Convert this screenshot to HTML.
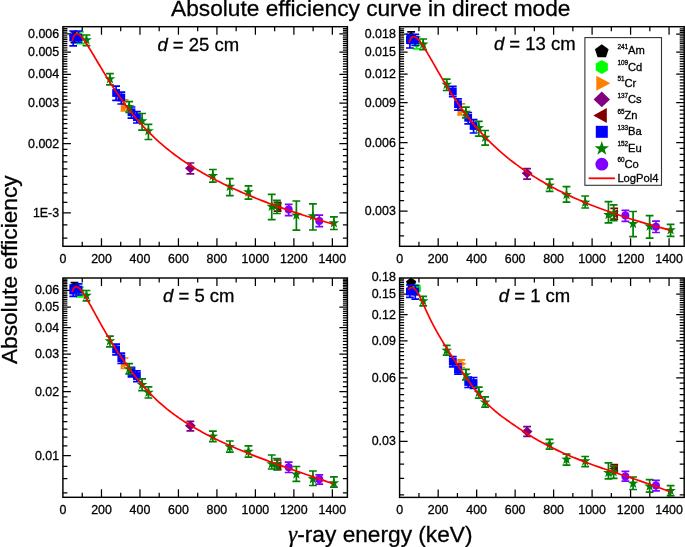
<!DOCTYPE html><html><head><meta charset="utf-8"><style>html,body{margin:0;padding:0;background:#fff;overflow:hidden}svg{display:block;will-change:transform} text{font-family:"Liberation Sans", sans-serif;fill:#000;stroke:#000;stroke-width:0.3px}.tl{font-size:12.4px}.dl{font-size:18.5px}.lg{font-size:11.2px}.sup{font-size:6.4px}.big{font-size:22.7px}</style></head><body>
<svg width="685" height="547" viewBox="0 0 685 547">
<rect width="685" height="547" fill="#fff"/>
<text x="171.1" y="16.3" class="big" style="font-size:22.7px">Absolute efficiency curve in direct mode</text>
<text transform="translate(16.8 364.1) rotate(-90)" class="big">Absolute efficiency</text>
<text x="288.3" y="541.6" class="big"><tspan style="font-family:'Liberation Serif',serif;font-style:italic">&#947;</tspan>-ray energy (keV)</text>
<clipPath id="cTL"><rect x="62.9" y="26.7" width="284.5" height="219.60000000000002"/></clipPath>
<path d="M82.24 246.30v-4.5M82.24 26.70v4.5M101.48 246.30v-8M101.48 26.70v8M120.72 246.30v-4.5M120.72 26.70v4.5M139.96 246.30v-8M139.96 26.70v8M159.20 246.30v-4.5M159.20 26.70v4.5M178.44 246.30v-8M178.44 26.70v8M197.68 246.30v-4.5M197.68 26.70v4.5M216.92 246.30v-8M216.92 26.70v8M236.16 246.30v-4.5M236.16 26.70v4.5M255.40 246.30v-8M255.40 26.70v8M274.64 246.30v-4.5M274.64 26.70v4.5M293.88 246.30v-8M293.88 26.70v8M313.12 246.30v-4.5M313.12 26.70v4.5M332.36 246.30v-8M332.36 26.70v8M62.90 238.10h4.5M347.40 238.10h-4.5M62.90 224.76h4.5M347.40 224.76h-4.5M62.90 212.99h8M347.40 212.99h-8M62.90 202.46h4.5M347.40 202.46h-4.5M62.90 192.94h4.5M347.40 192.94h-4.5M62.90 184.25h4.5M347.40 184.25h-4.5M62.90 176.25h4.5M347.40 176.25h-4.5M62.90 168.85h4.5M347.40 168.85h-4.5M62.90 161.95h4.5M347.40 161.95h-4.5M62.90 155.51h4.5M347.40 155.51h-4.5M62.90 149.45h4.5M347.40 149.45h-4.5M62.90 143.74h8M347.40 143.74h-8M62.90 138.34h4.5M347.40 138.34h-4.5M62.90 133.21h4.5M347.40 133.21h-4.5M62.90 128.34h4.5M347.40 128.34h-4.5M62.90 123.69h4.5M347.40 123.69h-4.5M62.90 119.25h4.5M347.40 119.25h-4.5M62.90 115.00h4.5M347.40 115.00h-4.5M62.90 110.92h4.5M347.40 110.92h-4.5M62.90 107.00h4.5M347.40 107.00h-4.5M62.90 103.23h8M347.40 103.23h-8M62.90 99.59h4.5M347.40 99.59h-4.5M62.90 96.09h4.5M347.40 96.09h-4.5M62.90 92.70h4.5M347.40 92.70h-4.5M62.90 89.43h4.5M347.40 89.43h-4.5M62.90 86.25h4.5M347.40 86.25h-4.5M62.90 83.18h4.5M347.40 83.18h-4.5M62.90 80.20h4.5M347.40 80.20h-4.5M62.90 77.30h4.5M347.40 77.30h-4.5M62.90 74.49h8M347.40 74.49h-8M62.90 71.75h4.5M347.40 71.75h-4.5M62.90 69.08h4.5M347.40 69.08h-4.5M62.90 66.49h4.5M347.40 66.49h-4.5M62.90 63.96h4.5M347.40 63.96h-4.5M62.90 61.49h4.5M347.40 61.49h-4.5M62.90 59.08h4.5M347.40 59.08h-4.5M62.90 56.73h4.5M347.40 56.73h-4.5M62.90 54.44h4.5M347.40 54.44h-4.5M62.90 52.19h8M347.40 52.19h-8M62.90 50.00h4.5M347.40 50.00h-4.5M62.90 47.85h4.5M347.40 47.85h-4.5M62.90 45.74h4.5M347.40 45.74h-4.5M62.90 43.68h4.5M347.40 43.68h-4.5M62.90 41.67h4.5M347.40 41.67h-4.5M62.90 39.69h4.5M347.40 39.69h-4.5M62.90 37.75h4.5M347.40 37.75h-4.5M62.90 35.84h4.5M347.40 35.84h-4.5M62.90 33.98h8M347.40 33.98h-8M62.90 32.14h4.5M347.40 32.14h-4.5M62.90 30.34h4.5M347.40 30.34h-4.5M62.90 28.57h4.5M347.40 28.57h-4.5" stroke="#000" stroke-width="1.25" fill="none"/>
<rect x="62.9" y="26.7" width="284.50" height="219.60" stroke="#000" stroke-width="1.45" fill="none"/>
<text x="63.00" y="263.10" text-anchor="middle" class="tl">0</text>
<text x="101.48" y="263.10" text-anchor="middle" class="tl">200</text>
<text x="139.96" y="263.10" text-anchor="middle" class="tl">400</text>
<text x="178.44" y="263.10" text-anchor="middle" class="tl">600</text>
<text x="216.92" y="263.10" text-anchor="middle" class="tl">800</text>
<text x="255.40" y="263.10" text-anchor="middle" class="tl">1000</text>
<text x="293.88" y="263.10" text-anchor="middle" class="tl">1200</text>
<text x="332.36" y="263.10" text-anchor="middle" class="tl">1400</text>
<text x="59.10" y="216.99" text-anchor="end" class="tl">1E-3</text>
<text x="59.10" y="147.74" text-anchor="end" class="tl">0.002</text>
<text x="59.10" y="107.23" text-anchor="end" class="tl">0.003</text>
<text x="59.10" y="78.49" text-anchor="end" class="tl">0.004</text>
<text x="59.10" y="56.19" text-anchor="end" class="tl">0.005</text>
<text x="59.10" y="37.98" text-anchor="end" class="tl">0.006</text>
<text x="198.30" y="50.90" text-anchor="middle" class="dl"><tspan font-style="italic">d</tspan> = 25 cm</text>
<g clip-path="url(#cTL)">
<path d="M74.45 31.80V42.60M70.55 31.80H78.35M70.55 42.60H78.35" stroke="#000000" stroke-width="1.7" fill="none"/>
<polygon points="74.45,31.60 79.58,35.33 77.62,41.37 71.27,41.37 69.31,35.33" fill="#000000"/>
<path d="M79.93 31.80V43.70M76.03 31.80H83.83M76.03 43.70H83.83" stroke="#00ff00" stroke-width="1.7" fill="none"/>
<polygon points="79.93,33.00 84.26,35.50 84.26,40.50 79.93,43.00 75.60,40.50 75.60,35.50" fill="#00ff00"/>
<path d="M124.57 99.80V111.00M120.67 99.80H128.47M120.67 111.00H128.47" stroke="#ff8000" stroke-width="1.7" fill="none"/>
<polygon points="120.77,102.40 129.97,107.00 120.77,111.60" fill="#ff8000"/>
<path d="M190.37 163.00V173.90M186.47 163.00H194.27M186.47 173.90H194.27" stroke="#800080" stroke-width="1.7" fill="none"/>
<polygon points="184.97,168.30 190.37,163.30 195.77,168.30 190.37,173.30" fill="#800080"/>
<path d="M277.53 202.40V211.20M273.63 202.40H281.43M273.63 211.20H281.43" stroke="#800000" stroke-width="1.7" fill="none"/>
<polygon points="281.33,202.30 272.13,206.90 281.33,211.50" fill="#800000"/>
<path d="M73.20 31.00V45.90M69.30 31.00H77.10M69.30 45.90H77.10" stroke="#0000ff" stroke-width="1.7" fill="none"/>
<rect x="69.30" y="33.60" width="7.80" height="7.80" fill="#0000ff"/>
<path d="M78.58 31.00V42.50M74.68 31.00H82.48M74.68 42.50H82.48" stroke="#0000ff" stroke-width="1.7" fill="none"/>
<rect x="74.68" y="33.60" width="7.80" height="7.80" fill="#0000ff"/>
<path d="M116.10 86.10V100.40M112.20 86.10H120.00M112.20 100.40H120.00" stroke="#0000ff" stroke-width="1.7" fill="none"/>
<rect x="112.20" y="89.10" width="7.80" height="7.80" fill="#0000ff"/>
<path d="M121.30 92.10V104.00M117.40 92.10H125.20M117.40 104.00H125.20" stroke="#0000ff" stroke-width="1.7" fill="none"/>
<rect x="117.40" y="93.60" width="7.80" height="7.80" fill="#0000ff"/>
<path d="M131.49 107.00V118.20M127.59 107.00H135.39M127.59 118.20H135.39" stroke="#0000ff" stroke-width="1.7" fill="none"/>
<rect x="127.59" y="108.40" width="7.80" height="7.80" fill="#0000ff"/>
<path d="M136.88 111.70V123.00M132.98 111.70H140.78M132.98 123.00H140.78" stroke="#0000ff" stroke-width="1.7" fill="none"/>
<rect x="132.98" y="113.30" width="7.80" height="7.80" fill="#0000ff"/>
<path d="M86.47 35.00V45.70M82.57 35.00H90.37M82.57 45.70H90.37" stroke="#008000" stroke-width="1.7" fill="none"/>
<polygon points="86.47,34.40 87.80,38.18 91.80,38.27 88.61,40.70 89.76,44.53 86.47,42.25 83.18,44.53 84.33,40.70 81.15,38.27 85.15,38.18" fill="#008000"/>
<path d="M109.95 73.70V84.90M106.05 73.70H113.85M106.05 84.90H113.85" stroke="#008000" stroke-width="1.7" fill="none"/>
<polygon points="109.95,73.40 111.27,77.18 115.27,77.27 112.09,79.70 113.24,83.53 109.95,81.25 106.65,83.53 107.81,79.70 104.62,77.27 108.62,77.18" fill="#008000"/>
<path d="M129.19 101.60V112.30M125.29 101.60H133.09M125.29 112.30H133.09" stroke="#008000" stroke-width="1.7" fill="none"/>
<polygon points="129.19,101.30 130.51,105.08 134.51,105.17 131.33,107.60 132.48,111.43 129.19,109.15 125.89,111.43 127.05,107.60 123.86,105.17 127.86,105.08" fill="#008000"/>
<path d="M142.08 113.50V130.20M138.18 113.50H145.98M138.18 130.20H145.98" stroke="#008000" stroke-width="1.7" fill="none"/>
<polygon points="142.08,115.40 143.40,119.18 147.40,119.27 144.22,121.70 145.37,125.53 142.08,123.25 138.78,125.53 139.94,121.70 136.75,119.27 140.75,119.18" fill="#008000"/>
<path d="M148.43 124.40V139.50M144.53 124.40H152.33M144.53 139.50H152.33" stroke="#008000" stroke-width="1.7" fill="none"/>
<polygon points="148.43,125.40 149.75,129.18 153.75,129.27 150.57,131.70 151.72,135.53 148.43,133.25 145.13,135.53 146.29,131.70 143.10,129.27 147.10,129.18" fill="#008000"/>
<path d="M212.88 169.50V182.20M208.98 169.50H216.78M208.98 182.20H216.78" stroke="#008000" stroke-width="1.7" fill="none"/>
<polygon points="212.88,170.20 214.20,173.98 218.21,174.07 215.02,176.50 216.17,180.33 212.88,178.05 209.59,180.33 210.74,176.50 207.55,174.07 211.56,173.98" fill="#008000"/>
<path d="M229.81 178.70V195.60M225.91 178.70H233.71M225.91 195.60H233.71" stroke="#008000" stroke-width="1.7" fill="none"/>
<polygon points="229.81,181.00 231.13,184.78 235.14,184.87 231.95,187.30 233.10,191.13 229.81,188.85 226.52,191.13 227.67,187.30 224.48,184.87 228.49,184.78" fill="#008000"/>
<path d="M248.47 185.90V199.10M244.57 185.90H252.37M244.57 199.10H252.37" stroke="#008000" stroke-width="1.7" fill="none"/>
<polygon points="248.47,186.50 249.80,190.28 253.80,190.37 250.61,192.80 251.77,196.63 248.47,194.35 245.18,196.63 246.33,192.80 243.15,190.37 247.15,190.28" fill="#008000"/>
<path d="M271.75 194.40V219.70M267.85 194.40H275.65M267.85 219.70H275.65" stroke="#008000" stroke-width="1.7" fill="none"/>
<polygon points="271.75,200.90 273.08,204.68 277.08,204.77 273.89,207.20 275.05,211.03 271.75,208.75 268.46,211.03 269.61,207.20 266.43,204.77 270.43,204.68" fill="#008000"/>
<path d="M276.95 200.30V213.50M273.05 200.30H280.85M273.05 213.50H280.85" stroke="#008000" stroke-width="1.7" fill="none"/>
<polygon points="276.95,199.70 278.27,203.48 282.27,203.57 279.09,206.00 280.24,209.83 276.95,207.55 273.66,209.83 274.81,206.00 271.62,203.57 275.63,203.48" fill="#008000"/>
<path d="M296.38 201.00V230.10M292.48 201.00H300.28M292.48 230.10H300.28" stroke="#008000" stroke-width="1.7" fill="none"/>
<polygon points="296.38,209.60 297.70,213.38 301.71,213.47 298.52,215.90 299.67,219.73 296.38,217.45 293.09,219.73 294.24,215.90 291.06,213.47 295.06,213.38" fill="#008000"/>
<path d="M312.93 203.90V230.00M309.03 203.90H316.83M309.03 230.00H316.83" stroke="#008000" stroke-width="1.7" fill="none"/>
<polygon points="312.93,210.40 314.25,214.18 318.25,214.27 315.07,216.70 316.22,220.53 312.93,218.25 309.64,220.53 310.79,216.70 307.60,214.27 311.61,214.18" fill="#008000"/>
<path d="M333.90 216.80V229.50M330.00 216.80H337.80M330.00 229.50H337.80" stroke="#008000" stroke-width="1.7" fill="none"/>
<polygon points="333.90,217.40 335.22,221.18 339.23,221.27 336.04,223.70 337.19,227.53 333.90,225.25 330.61,227.53 331.76,223.70 328.57,221.27 332.58,221.18" fill="#008000"/>
<path d="M288.69 204.30V215.60M284.79 204.30H292.59M284.79 215.60H292.59" stroke="#8000ff" stroke-width="1.7" fill="none"/>
<circle cx="288.69" cy="209.60" r="4.0" fill="#8000ff"/>
<path d="M319.28 215.10V226.70M315.38 215.10H323.18M315.38 226.70H323.18" stroke="#8000ff" stroke-width="1.7" fill="none"/>
<circle cx="319.28" cy="220.90" r="4.0" fill="#8000ff"/>
<path d="M72.24 40.88 L72.39 40.29 L72.55 39.73 L72.72 39.20 L72.88 38.69 L73.05 38.20 L73.23 37.75 L73.40 37.31 L73.58 36.90 L73.76 36.52 L73.94 36.16 L74.13 35.82 L74.32 35.51 L74.52 35.23 L74.71 34.96 L74.91 34.73 L75.12 34.52 L75.33 34.33 L75.54 34.16 L75.75 34.02 L75.97 33.91 L76.19 33.82 L76.42 33.75 L76.65 33.71 L76.88 33.69 L77.12 33.69 L77.36 33.72 L77.61 33.77 L77.86 33.85 L78.11 33.95 L78.37 34.07 L78.63 34.22 L78.90 34.38 L79.17 34.57 L79.45 34.78 L79.73 35.01 L80.02 35.27 L80.31 35.54 L80.61 35.83 L80.91 36.15 L81.21 36.49 L81.53 36.84 L81.84 37.22 L82.17 37.61 L82.49 38.02 L82.83 38.45 L83.17 38.90 L83.51 39.37 L83.86 39.86 L84.22 40.36 L84.58 40.89 L84.95 41.42 L85.33 41.98 L85.71 42.55 L86.10 43.14 L86.50 43.75 L86.90 44.37 L87.31 45.01 L87.72 45.66 L88.15 46.33 L88.58 47.02 L89.02 47.72 L89.46 48.44 L89.91 49.18 L90.38 49.93 L90.84 50.70 L91.32 51.49 L91.81 52.29 L92.30 53.11 L92.80 53.95 L93.31 54.80 L93.83 55.67 L94.36 56.55 L94.90 57.45 L95.44 58.37 L96.00 59.30 L96.56 60.25 L97.14 61.22 L97.72 62.20 L98.32 63.20 L98.92 64.21 L99.54 65.24 L100.16 66.29 L100.80 67.35 L101.44 68.43 L102.10 69.53 L102.77 70.64 L103.45 71.77 L104.15 72.91 L104.85 74.07 L105.57 75.24 L106.30 76.43 L107.04 77.63 L107.79 78.85 L108.56 80.08 L109.34 81.32 L110.13 82.58 L110.94 83.84 L111.76 85.12 L112.60 86.41 L113.44 87.71 L114.31 89.03 L115.19 90.35 L116.08 91.69 L116.99 93.03 L117.91 94.38 L118.85 95.74 L119.81 97.12 L120.78 98.49 L121.77 99.88 L122.78 101.28 L123.80 102.68 L124.84 104.09 L125.90 105.51 L126.98 106.93 L128.08 108.36 L129.19 109.79 L130.32 111.23 L131.48 112.68 L132.65 114.13 L133.84 115.58 L135.05 117.04 L136.29 118.50 L137.54 119.96 L138.82 121.43 L140.12 122.90 L141.44 124.37 L142.78 125.84 L144.15 127.32 L145.54 128.79 L146.95 130.26 L148.39 131.74 L149.85 133.21 L151.34 134.69 L152.85 136.16 L154.39 137.63 L155.95 139.09 L157.55 140.56 L159.16 142.02 L160.81 143.48 L162.49 144.93 L164.19 146.38 L165.92 147.82 L167.68 149.26 L169.48 150.69 L171.30 152.12 L173.15 153.54 L175.04 154.96 L176.96 156.37 L178.91 157.78 L180.90 159.18 L182.91 160.58 L184.97 161.97 L187.06 163.35 L189.18 164.74 L191.34 166.11 L193.54 167.49 L195.77 168.86 L198.05 170.23 L200.36 171.59 L202.71 172.95 L205.10 174.30 L207.54 175.65 L210.01 177.00 L212.53 178.34 L215.09 179.69 L217.70 181.03 L220.34 182.36 L223.04 183.69 L225.78 185.02 L228.57 186.35 L231.40 187.68 L234.28 189.00 L237.22 190.32 L240.20 191.64 L243.24 192.96 L246.32 194.28 L249.46 195.59 L252.65 196.90 L255.90 198.22 L259.20 199.53 L262.56 200.84 L265.98 202.14 L269.46 203.45 L272.99 204.76 L276.59 206.06 L280.25 207.37 L283.97 208.67 L287.75 209.98 L291.60 211.28 L295.51 212.59 L299.49 213.89 L303.54 215.20 L307.66 216.51 L311.85 217.81 L316.11 219.12 L320.45 220.43 L324.85 221.74 L329.34 223.05 L333.90 224.36" stroke="#ff0000" stroke-width="1.7" fill="none" stroke-linejoin="round"/>
</g>
<clipPath id="cTR"><rect x="399.6" y="26.7" width="284.6" height="219.60000000000002"/></clipPath>
<path d="M418.94 246.30v-4.5M418.94 26.70v4.5M438.18 246.30v-8M438.18 26.70v8M457.42 246.30v-4.5M457.42 26.70v4.5M476.66 246.30v-8M476.66 26.70v8M495.90 246.30v-4.5M495.90 26.70v4.5M515.14 246.30v-8M515.14 26.70v8M534.38 246.30v-4.5M534.38 26.70v4.5M553.62 246.30v-8M553.62 26.70v8M572.86 246.30v-4.5M572.86 26.70v4.5M592.10 246.30v-8M592.10 26.70v8M611.34 246.30v-4.5M611.34 26.70v4.5M630.58 246.30v-8M630.58 26.70v8M649.82 246.30v-4.5M649.82 26.70v4.5M669.06 246.30v-8M669.06 26.70v8M399.60 235.93h4.5M684.20 235.93h-4.5M399.60 222.75h4.5M684.20 222.75h-4.5M399.60 211.11h8M684.20 211.11h-8M399.60 200.71h4.5M684.20 200.71h-4.5M399.60 191.29h4.5M684.20 191.29h-4.5M399.60 182.70h4.5M684.20 182.70h-4.5M399.60 174.79h4.5M684.20 174.79h-4.5M399.60 167.47h4.5M684.20 167.47h-4.5M399.60 160.66h4.5M684.20 160.66h-4.5M399.60 154.29h4.5M684.20 154.29h-4.5M399.60 148.30h4.5M684.20 148.30h-4.5M399.60 142.65h8M684.20 142.65h-8M399.60 137.31h4.5M684.20 137.31h-4.5M399.60 132.25h4.5M684.20 132.25h-4.5M399.60 127.43h4.5M684.20 127.43h-4.5M399.60 122.83h4.5M684.20 122.83h-4.5M399.60 118.44h4.5M684.20 118.44h-4.5M399.60 114.24h4.5M684.20 114.24h-4.5M399.60 110.21h4.5M684.20 110.21h-4.5M399.60 106.33h4.5M684.20 106.33h-4.5M399.60 102.61h8M684.20 102.61h-8M399.60 99.01h4.5M684.20 99.01h-4.5M399.60 95.55h4.5M684.20 95.55h-4.5M399.60 92.20h4.5M684.20 92.20h-4.5M399.60 88.96h4.5M684.20 88.96h-4.5M399.60 85.83h4.5M684.20 85.83h-4.5M399.60 82.79h4.5M684.20 82.79h-4.5M399.60 79.84h4.5M684.20 79.84h-4.5M399.60 76.97h4.5M684.20 76.97h-4.5M399.60 74.19h8M684.20 74.19h-8M399.60 71.49h4.5M684.20 71.49h-4.5M399.60 68.85h4.5M684.20 68.85h-4.5M399.60 66.29h4.5M684.20 66.29h-4.5M399.60 63.79h4.5M684.20 63.79h-4.5M399.60 61.35h4.5M684.20 61.35h-4.5M399.60 58.97h4.5M684.20 58.97h-4.5M399.60 56.64h4.5M684.20 56.64h-4.5M399.60 54.37h4.5M684.20 54.37h-4.5M399.60 52.15h8M684.20 52.15h-8M399.60 49.98h4.5M684.20 49.98h-4.5M399.60 47.86h4.5M684.20 47.86h-4.5M399.60 45.78h4.5M684.20 45.78h-4.5M399.60 43.74h4.5M684.20 43.74h-4.5M399.60 41.75h4.5M684.20 41.75h-4.5M399.60 39.79h4.5M684.20 39.79h-4.5M399.60 37.87h4.5M684.20 37.87h-4.5M399.60 35.99h4.5M684.20 35.99h-4.5M399.60 34.15h8M684.20 34.15h-8M399.60 32.33h4.5M684.20 32.33h-4.5M399.60 30.55h4.5M684.20 30.55h-4.5M399.60 28.81h4.5M684.20 28.81h-4.5" stroke="#000" stroke-width="1.25" fill="none"/>
<rect x="399.6" y="26.7" width="284.60" height="219.60" stroke="#000" stroke-width="1.45" fill="none"/>
<text x="399.70" y="263.10" text-anchor="middle" class="tl">0</text>
<text x="438.18" y="263.10" text-anchor="middle" class="tl">200</text>
<text x="476.66" y="263.10" text-anchor="middle" class="tl">400</text>
<text x="515.14" y="263.10" text-anchor="middle" class="tl">600</text>
<text x="553.62" y="263.10" text-anchor="middle" class="tl">800</text>
<text x="592.10" y="263.10" text-anchor="middle" class="tl">1000</text>
<text x="630.58" y="263.10" text-anchor="middle" class="tl">1200</text>
<text x="669.06" y="263.10" text-anchor="middle" class="tl">1400</text>
<text x="395.80" y="215.11" text-anchor="end" class="tl">0.003</text>
<text x="395.80" y="146.65" text-anchor="end" class="tl">0.006</text>
<text x="395.80" y="106.61" text-anchor="end" class="tl">0.009</text>
<text x="395.80" y="78.19" text-anchor="end" class="tl">0.012</text>
<text x="395.80" y="56.15" text-anchor="end" class="tl">0.015</text>
<text x="395.80" y="38.15" text-anchor="end" class="tl">0.018</text>
<text x="534.80" y="49.90" text-anchor="middle" class="dl"><tspan font-style="italic">d</tspan> = 13 cm</text>
<g clip-path="url(#cTR)">
<path d="M411.15 31.90V43.30M407.25 31.90H415.05M407.25 43.30H415.05" stroke="#000000" stroke-width="1.7" fill="none"/>
<polygon points="411.15,32.20 416.28,35.93 414.32,41.97 407.97,41.97 406.01,35.93" fill="#000000"/>
<path d="M416.63 36.80V48.80M412.73 36.80H420.53M412.73 48.80H420.53" stroke="#00ff00" stroke-width="1.7" fill="none"/>
<polygon points="416.63,37.80 420.96,40.30 420.96,45.30 416.63,47.80 412.30,45.30 412.30,40.30" fill="#00ff00"/>
<path d="M461.27 103.80V114.90M457.37 103.80H465.17M457.37 114.90H465.17" stroke="#ff8000" stroke-width="1.7" fill="none"/>
<polygon points="457.47,106.40 466.67,111.00 457.47,115.60" fill="#ff8000"/>
<path d="M527.07 168.60V179.10M523.17 168.60H530.97M523.17 179.10H530.97" stroke="#800080" stroke-width="1.7" fill="none"/>
<polygon points="521.67,173.30 527.07,168.30 532.47,173.30 527.07,178.30" fill="#800080"/>
<path d="M614.23 208.30V219.20M610.33 208.30H618.13M610.33 219.20H618.13" stroke="#800000" stroke-width="1.7" fill="none"/>
<polygon points="618.03,209.20 608.83,213.80 618.03,218.40" fill="#800000"/>
<path d="M409.90 34.40V48.00M406.00 34.40H413.80M406.00 48.00H413.80" stroke="#0000ff" stroke-width="1.7" fill="none"/>
<rect x="406.00" y="36.10" width="7.80" height="7.80" fill="#0000ff"/>
<path d="M415.28 34.40V45.50M411.38 34.40H419.18M411.38 45.50H419.18" stroke="#0000ff" stroke-width="1.7" fill="none"/>
<rect x="411.38" y="36.10" width="7.80" height="7.80" fill="#0000ff"/>
<path d="M452.80 86.30V96.60M448.90 86.30H456.70M448.90 96.60H456.70" stroke="#0000ff" stroke-width="1.7" fill="none"/>
<rect x="448.90" y="87.60" width="7.80" height="7.80" fill="#0000ff"/>
<path d="M458.00 98.80V110.10M454.10 98.80H461.90M454.10 110.10H461.90" stroke="#0000ff" stroke-width="1.7" fill="none"/>
<rect x="454.10" y="100.30" width="7.80" height="7.80" fill="#0000ff"/>
<path d="M468.19 112.50V123.80M464.29 112.50H472.09M464.29 123.80H472.09" stroke="#0000ff" stroke-width="1.7" fill="none"/>
<rect x="464.29" y="113.90" width="7.80" height="7.80" fill="#0000ff"/>
<path d="M473.58 119.60V133.00M469.68 119.60H477.48M469.68 133.00H477.48" stroke="#0000ff" stroke-width="1.7" fill="none"/>
<rect x="469.68" y="122.10" width="7.80" height="7.80" fill="#0000ff"/>
<path d="M423.17 39.00V49.60M419.27 39.00H427.07M419.27 49.60H427.07" stroke="#008000" stroke-width="1.7" fill="none"/>
<polygon points="423.17,38.70 424.50,42.48 428.50,42.57 425.31,45.00 426.46,48.83 423.17,46.55 419.88,48.83 421.03,45.00 417.85,42.57 421.85,42.48" fill="#008000"/>
<path d="M446.65 79.20V90.50M442.75 79.20H450.55M442.75 90.50H450.55" stroke="#008000" stroke-width="1.7" fill="none"/>
<polygon points="446.65,79.00 447.97,82.78 451.97,82.87 448.79,85.30 449.94,89.13 446.65,86.85 443.35,89.13 444.51,85.30 441.32,82.87 445.32,82.78" fill="#008000"/>
<path d="M465.89 107.10V117.80M461.99 107.10H469.79M461.99 117.80H469.79" stroke="#008000" stroke-width="1.7" fill="none"/>
<polygon points="465.89,106.90 467.21,110.68 471.21,110.77 468.03,113.20 469.18,117.03 465.89,114.75 462.59,117.03 463.75,113.20 460.56,110.77 464.56,110.68" fill="#008000"/>
<path d="M478.78 121.30V136.20M474.88 121.30H482.68M474.88 136.20H482.68" stroke="#008000" stroke-width="1.7" fill="none"/>
<polygon points="478.78,122.30 480.10,126.08 484.10,126.17 480.92,128.60 482.07,132.43 478.78,130.15 475.48,132.43 476.64,128.60 473.45,126.17 477.45,126.08" fill="#008000"/>
<path d="M485.13 130.50V145.20M481.23 130.50H489.03M481.23 145.20H489.03" stroke="#008000" stroke-width="1.7" fill="none"/>
<polygon points="485.13,131.90 486.45,135.68 490.45,135.77 487.27,138.20 488.42,142.03 485.13,139.75 481.83,142.03 482.99,138.20 479.80,135.77 483.80,135.68" fill="#008000"/>
<path d="M549.58 179.20V191.30M545.68 179.20H553.48M545.68 191.30H553.48" stroke="#008000" stroke-width="1.7" fill="none"/>
<polygon points="549.58,179.80 550.90,183.58 554.91,183.67 551.72,186.10 552.87,189.93 549.58,187.65 546.29,189.93 547.44,186.10 544.25,183.67 548.26,183.58" fill="#008000"/>
<path d="M566.51 186.60V202.10M562.61 186.60H570.41M562.61 202.10H570.41" stroke="#008000" stroke-width="1.7" fill="none"/>
<polygon points="566.51,189.20 567.83,192.98 571.84,193.07 568.65,195.50 569.80,199.33 566.51,197.05 563.22,199.33 564.37,195.50 561.18,193.07 565.19,192.98" fill="#008000"/>
<path d="M585.17 196.00V208.00M581.27 196.00H589.07M581.27 208.00H589.07" stroke="#008000" stroke-width="1.7" fill="none"/>
<polygon points="585.17,196.80 586.50,200.58 590.50,200.67 587.31,203.10 588.47,206.93 585.17,204.65 581.88,206.93 583.03,203.10 579.85,200.67 583.85,200.58" fill="#008000"/>
<path d="M608.45 201.60V222.90M604.55 201.60H612.35M604.55 222.90H612.35" stroke="#008000" stroke-width="1.7" fill="none"/>
<polygon points="608.45,209.10 609.78,212.88 613.78,212.97 610.59,215.40 611.75,219.23 608.45,216.95 605.16,219.23 606.31,215.40 603.13,212.97 607.13,212.88" fill="#008000"/>
<path d="M613.65 204.90V220.60M609.75 204.90H617.55M609.75 220.60H617.55" stroke="#008000" stroke-width="1.7" fill="none"/>
<polygon points="613.65,207.70 614.97,211.48 618.97,211.57 615.79,214.00 616.94,217.83 613.65,215.55 610.36,217.83 611.51,214.00 608.32,211.57 612.33,211.48" fill="#008000"/>
<path d="M633.08 211.50V236.60M629.18 211.50H636.98M629.18 236.60H636.98" stroke="#008000" stroke-width="1.7" fill="none"/>
<polygon points="633.08,218.20 634.40,221.98 638.41,222.07 635.22,224.50 636.37,228.33 633.08,226.05 629.79,228.33 630.94,224.50 627.76,222.07 631.76,221.98" fill="#008000"/>
<path d="M649.63 215.60V238.20M645.73 215.60H653.53M645.73 238.20H653.53" stroke="#008000" stroke-width="1.7" fill="none"/>
<polygon points="649.63,220.70 650.95,224.48 654.95,224.57 651.77,227.00 652.92,230.83 649.63,228.55 646.34,230.83 647.49,227.00 644.30,224.57 648.31,224.48" fill="#008000"/>
<path d="M670.60 224.30V236.30M666.70 224.30H674.50M666.70 236.30H674.50" stroke="#008000" stroke-width="1.7" fill="none"/>
<polygon points="670.60,224.40 671.92,228.18 675.93,228.27 672.74,230.70 673.89,234.53 670.60,232.25 667.31,234.53 668.46,230.70 665.27,228.27 669.28,228.18" fill="#008000"/>
<path d="M625.39 210.40V221.30M621.49 210.40H629.29M621.49 221.30H629.29" stroke="#8000ff" stroke-width="1.7" fill="none"/>
<circle cx="625.39" cy="215.60" r="4.0" fill="#8000ff"/>
<path d="M655.98 221.20V232.50M652.08 221.20H659.88M652.08 232.50H659.88" stroke="#8000ff" stroke-width="1.7" fill="none"/>
<circle cx="655.98" cy="226.70" r="4.0" fill="#8000ff"/>
<path d="M409.13 42.67 L409.29 42.16 L409.45 41.67 L409.62 41.21 L409.79 40.77 L409.96 40.35 L410.13 39.96 L410.31 39.59 L410.49 39.24 L410.67 38.91 L410.86 38.60 L411.05 38.32 L411.24 38.06 L411.44 37.82 L411.64 37.60 L411.84 37.41 L412.05 37.24 L412.26 37.09 L412.47 36.96 L412.69 36.85 L412.91 36.76 L413.14 36.70 L413.37 36.66 L413.60 36.63 L413.83 36.63 L414.08 36.65 L414.32 36.69 L414.57 36.76 L414.82 36.84 L415.08 36.94 L415.34 37.07 L415.61 37.21 L415.88 37.38 L416.15 37.57 L416.43 37.77 L416.72 38.00 L417.01 38.25 L417.30 38.52 L417.60 38.80 L417.91 39.11 L418.22 39.44 L418.53 39.79 L418.85 40.16 L419.18 40.54 L419.51 40.95 L419.85 41.38 L420.19 41.82 L420.54 42.29 L420.89 42.77 L421.25 43.28 L421.62 43.80 L421.99 44.34 L422.37 44.91 L422.76 45.49 L423.15 46.08 L423.55 46.70 L423.96 47.34 L424.37 47.99 L424.79 48.67 L425.21 49.36 L425.65 50.07 L426.09 50.80 L426.54 51.55 L427.00 52.31 L427.46 53.10 L427.93 53.90 L428.41 54.72 L428.90 55.56 L429.40 56.41 L429.91 57.28 L430.42 58.17 L430.94 59.08 L431.47 60.01 L432.01 60.95 L432.56 61.91 L433.12 62.89 L433.69 63.88 L434.27 64.89 L434.86 65.92 L435.46 66.97 L436.07 68.03 L436.68 69.11 L437.31 70.21 L437.95 71.32 L438.61 72.45 L439.27 73.59 L439.94 74.75 L440.63 75.93 L441.32 77.12 L442.03 78.33 L442.75 79.55 L443.48 80.78 L444.23 82.03 L444.99 83.29 L445.76 84.56 L446.54 85.85 L447.34 87.15 L448.15 88.46 L448.97 89.79 L449.81 91.12 L450.66 92.46 L451.53 93.82 L452.41 95.19 L453.31 96.56 L454.22 97.95 L455.15 99.34 L456.10 100.74 L457.05 102.15 L458.03 103.57 L459.02 105.00 L460.03 106.44 L461.06 107.88 L462.10 109.33 L463.17 110.78 L464.25 112.24 L465.34 113.71 L466.46 115.18 L467.60 116.65 L468.75 118.13 L469.93 119.62 L471.12 121.11 L472.34 122.60 L473.58 124.10 L474.83 125.60 L476.11 127.10 L477.41 128.60 L478.73 130.10 L480.08 131.61 L481.45 133.12 L482.84 134.63 L484.25 136.13 L485.69 137.64 L487.16 139.15 L488.64 140.66 L490.16 142.16 L491.70 143.67 L493.26 145.17 L494.85 146.67 L496.47 148.17 L498.12 149.67 L499.80 151.16 L501.50 152.65 L503.23 154.13 L504.99 155.62 L506.79 157.10 L508.61 158.57 L510.46 160.05 L512.35 161.51 L514.26 162.98 L516.21 164.44 L518.20 165.89 L520.21 167.35 L522.26 168.79 L524.35 170.24 L526.47 171.67 L528.63 173.11 L530.82 174.54 L533.05 175.96 L535.32 177.38 L537.63 178.79 L539.98 180.20 L542.37 181.60 L544.79 183.00 L547.26 184.39 L549.77 185.77 L552.33 187.15 L554.92 188.52 L557.57 189.89 L560.25 191.25 L562.99 192.60 L565.76 193.95 L568.59 195.29 L571.46 196.62 L574.39 197.95 L577.36 199.26 L580.38 200.58 L583.46 201.88 L586.59 203.18 L589.77 204.47 L593.00 205.75 L596.29 207.02 L599.64 208.29 L603.04 209.55 L606.50 210.81 L610.02 212.06 L613.60 213.30 L617.24 214.54 L620.94 215.77 L624.71 217.00 L628.53 218.23 L632.43 219.45 L636.39 220.67 L640.42 221.88 L644.51 223.09 L648.68 224.30 L652.92 225.51 L657.23 226.72 L661.61 227.92 L666.07 229.12 L670.60 230.33" stroke="#ff0000" stroke-width="1.7" fill="none" stroke-linejoin="round"/>
</g>
<clipPath id="cBL"><rect x="62.9" y="278.0" width="284.5" height="219.3"/></clipPath>
<path d="M82.24 497.30v-4.5M82.24 278.00v4.5M101.48 497.30v-8M101.48 278.00v8M120.72 497.30v-4.5M120.72 278.00v4.5M139.96 497.30v-8M139.96 278.00v8M159.20 497.30v-4.5M159.20 278.00v4.5M178.44 497.30v-8M178.44 278.00v8M197.68 497.30v-4.5M197.68 278.00v4.5M216.92 497.30v-8M216.92 278.00v8M236.16 497.30v-4.5M236.16 278.00v4.5M255.40 497.30v-8M255.40 278.00v8M274.64 497.30v-4.5M274.64 278.00v4.5M293.88 497.30v-8M293.88 278.00v8M313.12 497.30v-4.5M313.12 278.00v4.5M332.36 497.30v-8M332.36 278.00v8M62.90 492.93h4.5M347.40 492.93h-4.5M62.90 478.72h4.5M347.40 478.72h-4.5M62.90 466.40h4.5M347.40 466.40h-4.5M62.90 455.54h8M347.40 455.54h-8M62.90 445.82h4.5M347.40 445.82h-4.5M62.90 437.03h4.5M347.40 437.03h-4.5M62.90 429.01h4.5M347.40 429.01h-4.5M62.90 421.63h4.5M347.40 421.63h-4.5M62.90 414.79h4.5M347.40 414.79h-4.5M62.90 408.43h4.5M347.40 408.43h-4.5M62.90 402.48h4.5M347.40 402.48h-4.5M62.90 396.89h4.5M347.40 396.89h-4.5M62.90 391.62h8M347.40 391.62h-8M62.90 386.63h4.5M347.40 386.63h-4.5M62.90 381.90h4.5M347.40 381.90h-4.5M62.90 377.40h4.5M347.40 377.40h-4.5M62.90 373.11h4.5M347.40 373.11h-4.5M62.90 369.01h4.5M347.40 369.01h-4.5M62.90 365.09h4.5M347.40 365.09h-4.5M62.90 361.32h4.5M347.40 361.32h-4.5M62.90 357.70h4.5M347.40 357.70h-4.5M62.90 354.22h8M347.40 354.22h-8M62.90 350.87h4.5M347.40 350.87h-4.5M62.90 347.63h4.5M347.40 347.63h-4.5M62.90 344.51h4.5M347.40 344.51h-4.5M62.90 341.48h4.5M347.40 341.48h-4.5M62.90 338.55h4.5M347.40 338.55h-4.5M62.90 335.72h4.5M347.40 335.72h-4.5M62.90 332.96h4.5M347.40 332.96h-4.5M62.90 330.29h4.5M347.40 330.29h-4.5M62.90 327.69h8M347.40 327.69h-8M62.90 325.17h4.5M347.40 325.17h-4.5M62.90 322.71h4.5M347.40 322.71h-4.5M62.90 320.31h4.5M347.40 320.31h-4.5M62.90 317.98h4.5M347.40 317.98h-4.5M62.90 315.70h4.5M347.40 315.70h-4.5M62.90 313.48h4.5M347.40 313.48h-4.5M62.90 311.31h4.5M347.40 311.31h-4.5M62.90 309.19h4.5M347.40 309.19h-4.5M62.90 307.11h8M347.40 307.11h-8M62.90 305.09h4.5M347.40 305.09h-4.5M62.90 303.10h4.5M347.40 303.10h-4.5M62.90 301.16h4.5M347.40 301.16h-4.5M62.90 299.26h4.5M347.40 299.26h-4.5M62.90 297.40h4.5M347.40 297.40h-4.5M62.90 295.57h4.5M347.40 295.57h-4.5M62.90 293.78h4.5M347.40 293.78h-4.5M62.90 292.02h4.5M347.40 292.02h-4.5M62.90 290.30h8M347.40 290.30h-8M62.90 288.61h4.5M347.40 288.61h-4.5M62.90 286.95h4.5M347.40 286.95h-4.5M62.90 285.31h4.5M347.40 285.31h-4.5M62.90 283.71h4.5M347.40 283.71h-4.5M62.90 282.13h4.5M347.40 282.13h-4.5M62.90 280.58h4.5M347.40 280.58h-4.5M62.90 279.06h4.5M347.40 279.06h-4.5" stroke="#000" stroke-width="1.25" fill="none"/>
<rect x="62.9" y="278.0" width="284.50" height="219.30" stroke="#000" stroke-width="1.45" fill="none"/>
<text x="63.00" y="514.10" text-anchor="middle" class="tl">0</text>
<text x="101.48" y="514.10" text-anchor="middle" class="tl">200</text>
<text x="139.96" y="514.10" text-anchor="middle" class="tl">400</text>
<text x="178.44" y="514.10" text-anchor="middle" class="tl">600</text>
<text x="216.92" y="514.10" text-anchor="middle" class="tl">800</text>
<text x="255.40" y="514.10" text-anchor="middle" class="tl">1000</text>
<text x="293.88" y="514.10" text-anchor="middle" class="tl">1200</text>
<text x="332.36" y="514.10" text-anchor="middle" class="tl">1400</text>
<text x="59.10" y="459.54" text-anchor="end" class="tl">0.01</text>
<text x="59.10" y="395.62" text-anchor="end" class="tl">0.02</text>
<text x="59.10" y="358.22" text-anchor="end" class="tl">0.03</text>
<text x="59.10" y="331.69" text-anchor="end" class="tl">0.04</text>
<text x="59.10" y="311.11" text-anchor="end" class="tl">0.05</text>
<text x="59.10" y="294.30" text-anchor="end" class="tl">0.06</text>
<text x="198.80" y="301.90" text-anchor="middle" class="dl"><tspan font-style="italic">d</tspan> = 5 cm</text>
<g clip-path="url(#cBL)">
<path d="M74.45 282.60V292.60M70.55 282.60H78.35M70.55 292.60H78.35" stroke="#000000" stroke-width="1.7" fill="none"/>
<polygon points="74.45,282.10 79.58,285.83 77.62,291.87 71.27,291.87 69.31,285.83" fill="#000000"/>
<path d="M79.93 287.40V296.90M76.03 287.40H83.83M76.03 296.90H83.83" stroke="#00ff00" stroke-width="1.7" fill="none"/>
<polygon points="79.93,287.50 84.26,290.00 84.26,295.00 79.93,297.50 75.60,295.00 75.60,290.00" fill="#00ff00"/>
<path d="M124.57 358.00V368.50M120.67 358.00H128.47M120.67 368.50H128.47" stroke="#ff8000" stroke-width="1.7" fill="none"/>
<polygon points="120.77,359.40 129.97,364.00 120.77,368.60" fill="#ff8000"/>
<path d="M190.37 421.30V430.90M186.47 421.30H194.27M186.47 430.90H194.27" stroke="#800080" stroke-width="1.7" fill="none"/>
<polygon points="184.97,425.80 190.37,420.80 195.77,425.80 190.37,430.80" fill="#800080"/>
<path d="M277.53 460.00V469.60M273.63 460.00H281.43M273.63 469.60H281.43" stroke="#800000" stroke-width="1.7" fill="none"/>
<polygon points="281.33,461.10 272.13,465.70 281.33,470.30" fill="#800000"/>
<path d="M73.20 285.00V296.30M69.30 285.00H77.10M69.30 296.30H77.10" stroke="#0000ff" stroke-width="1.7" fill="none"/>
<rect x="69.30" y="286.60" width="7.80" height="7.80" fill="#0000ff"/>
<path d="M78.58 283.80V295.00M74.68 283.80H82.48M74.68 295.00H82.48" stroke="#0000ff" stroke-width="1.7" fill="none"/>
<rect x="74.68" y="285.60" width="7.80" height="7.80" fill="#0000ff"/>
<path d="M116.10 344.10V354.80M112.20 344.10H120.00M112.20 354.80H120.00" stroke="#0000ff" stroke-width="1.7" fill="none"/>
<rect x="112.20" y="345.50" width="7.80" height="7.80" fill="#0000ff"/>
<path d="M121.30 353.20V363.50M117.40 353.20H125.20M117.40 363.50H125.20" stroke="#0000ff" stroke-width="1.7" fill="none"/>
<rect x="117.40" y="354.40" width="7.80" height="7.80" fill="#0000ff"/>
<path d="M131.49 367.30V376.80M127.59 367.30H135.39M127.59 376.80H135.39" stroke="#0000ff" stroke-width="1.7" fill="none"/>
<rect x="127.59" y="368.10" width="7.80" height="7.80" fill="#0000ff"/>
<path d="M136.88 370.80V381.60M132.98 370.80H140.78M132.98 381.60H140.78" stroke="#0000ff" stroke-width="1.7" fill="none"/>
<rect x="132.98" y="372.10" width="7.80" height="7.80" fill="#0000ff"/>
<path d="M86.47 290.50V300.80M82.57 290.50H90.37M82.57 300.80H90.37" stroke="#008000" stroke-width="1.7" fill="none"/>
<polygon points="86.47,289.90 87.80,293.68 91.80,293.77 88.61,296.20 89.76,300.03 86.47,297.75 83.18,300.03 84.33,296.20 81.15,293.77 85.15,293.68" fill="#008000"/>
<path d="M109.95 336.10V346.80M106.05 336.10H113.85M106.05 346.80H113.85" stroke="#008000" stroke-width="1.7" fill="none"/>
<polygon points="109.95,335.50 111.27,339.28 115.27,339.37 112.09,341.80 113.24,345.63 109.95,343.35 106.65,345.63 107.81,341.80 104.62,339.37 108.62,339.28" fill="#008000"/>
<path d="M129.19 363.70V373.80M125.29 363.70H133.09M125.29 373.80H133.09" stroke="#008000" stroke-width="1.7" fill="none"/>
<polygon points="129.19,363.40 130.51,367.18 134.51,367.27 131.33,369.70 132.48,373.53 129.19,371.25 125.89,373.53 127.05,369.70 123.86,367.27 127.86,367.18" fill="#008000"/>
<path d="M142.08 378.80V390.60M138.18 378.80H145.98M138.18 390.60H145.98" stroke="#008000" stroke-width="1.7" fill="none"/>
<polygon points="142.08,379.20 143.40,382.98 147.40,383.07 144.22,385.50 145.37,389.33 142.08,387.05 138.78,389.33 139.94,385.50 136.75,383.07 140.75,382.98" fill="#008000"/>
<path d="M148.43 386.80V398.00M144.53 386.80H152.33M144.53 398.00H152.33" stroke="#008000" stroke-width="1.7" fill="none"/>
<polygon points="148.43,386.90 149.75,390.68 153.75,390.77 150.57,393.20 151.72,397.03 148.43,394.75 145.13,397.03 146.29,393.20 143.10,390.77 147.10,390.68" fill="#008000"/>
<path d="M212.88 431.10V441.60M208.98 431.10H216.78M208.98 441.60H216.78" stroke="#008000" stroke-width="1.7" fill="none"/>
<polygon points="212.88,430.80 214.20,434.58 218.21,434.67 215.02,437.10 216.17,440.93 212.88,438.65 209.59,440.93 210.74,437.10 207.55,434.67 211.56,434.58" fill="#008000"/>
<path d="M229.81 441.00V452.10M225.91 441.00H233.71M225.91 452.10H233.71" stroke="#008000" stroke-width="1.7" fill="none"/>
<polygon points="229.81,441.30 231.13,445.08 235.14,445.17 231.95,447.60 233.10,451.43 229.81,449.15 226.52,451.43 227.67,447.60 224.48,445.17 228.49,445.08" fill="#008000"/>
<path d="M248.47 445.90V457.10M244.57 445.90H252.37M244.57 457.10H252.37" stroke="#008000" stroke-width="1.7" fill="none"/>
<polygon points="248.47,445.90 249.80,449.68 253.80,449.77 250.61,452.20 251.77,456.03 248.47,453.75 245.18,456.03 246.33,452.20 243.15,449.77 247.15,449.68" fill="#008000"/>
<path d="M271.75 455.00V469.00M267.85 455.00H275.65M267.85 469.00H275.65" stroke="#008000" stroke-width="1.7" fill="none"/>
<polygon points="271.75,458.40 273.08,462.18 277.08,462.27 273.89,464.70 275.05,468.53 271.75,466.25 268.46,468.53 269.61,464.70 266.43,462.27 270.43,462.18" fill="#008000"/>
<path d="M276.95 458.50V469.60M273.05 458.50H280.85M273.05 469.60H280.85" stroke="#008000" stroke-width="1.7" fill="none"/>
<polygon points="276.95,458.90 278.27,462.68 282.27,462.77 279.09,465.20 280.24,469.03 276.95,466.75 273.66,469.03 274.81,465.20 271.62,462.77 275.63,462.68" fill="#008000"/>
<path d="M296.38 466.50V481.30M292.48 466.50H300.28M292.48 481.30H300.28" stroke="#008000" stroke-width="1.7" fill="none"/>
<polygon points="296.38,468.70 297.70,472.48 301.71,472.57 298.52,475.00 299.67,478.83 296.38,476.55 293.09,478.83 294.24,475.00 291.06,472.57 295.06,472.48" fill="#008000"/>
<path d="M312.93 471.00V485.50M309.03 471.00H316.83M309.03 485.50H316.83" stroke="#008000" stroke-width="1.7" fill="none"/>
<polygon points="312.93,473.30 314.25,477.08 318.25,477.17 315.07,479.60 316.22,483.43 312.93,481.15 309.64,483.43 310.79,479.60 307.60,477.17 311.61,477.08" fill="#008000"/>
<path d="M333.90 476.80V487.10M330.00 476.80H337.80M330.00 487.10H337.80" stroke="#008000" stroke-width="1.7" fill="none"/>
<polygon points="333.90,477.40 335.22,481.18 339.23,481.27 336.04,483.70 337.19,487.53 333.90,485.25 330.61,487.53 331.76,483.70 328.57,481.27 332.58,481.18" fill="#008000"/>
<path d="M288.69 462.20V472.50M284.79 462.20H292.59M284.79 472.50H292.59" stroke="#8000ff" stroke-width="1.7" fill="none"/>
<circle cx="288.69" cy="467.30" r="4.0" fill="#8000ff"/>
<path d="M319.28 474.80V484.20M315.38 474.80H323.18M315.38 484.20H323.18" stroke="#8000ff" stroke-width="1.7" fill="none"/>
<circle cx="319.28" cy="479.30" r="4.0" fill="#8000ff"/>
<path d="M72.24 291.98 L72.39 291.49 L72.55 291.03 L72.72 290.59 L72.88 290.17 L73.05 289.78 L73.23 289.42 L73.40 289.07 L73.58 288.75 L73.76 288.46 L73.94 288.18 L74.13 287.93 L74.32 287.71 L74.52 287.50 L74.71 287.32 L74.91 287.17 L75.12 287.03 L75.33 286.92 L75.54 286.83 L75.75 286.76 L75.97 286.72 L76.19 286.70 L76.42 286.70 L76.65 286.72 L76.88 286.76 L77.12 286.83 L77.36 286.92 L77.61 287.02 L77.86 287.15 L78.11 287.31 L78.37 287.48 L78.63 287.67 L78.90 287.89 L79.17 288.12 L79.45 288.38 L79.73 288.66 L80.02 288.95 L80.31 289.27 L80.61 289.61 L80.91 289.97 L81.21 290.35 L81.53 290.75 L81.84 291.17 L82.17 291.60 L82.49 292.06 L82.83 292.54 L83.17 293.04 L83.51 293.55 L83.86 294.09 L84.22 294.64 L84.58 295.22 L84.95 295.81 L85.33 296.42 L85.71 297.05 L86.10 297.70 L86.50 298.37 L86.90 299.05 L87.31 299.75 L87.72 300.48 L88.15 301.22 L88.58 301.97 L89.02 302.75 L89.46 303.54 L89.91 304.35 L90.38 305.18 L90.84 306.02 L91.32 306.88 L91.81 307.76 L92.30 308.66 L92.80 309.57 L93.31 310.50 L93.83 311.45 L94.36 312.41 L94.90 313.39 L95.44 314.39 L96.00 315.40 L96.56 316.42 L97.14 317.47 L97.72 318.53 L98.32 319.60 L98.92 320.69 L99.54 321.80 L100.16 322.92 L100.80 324.05 L101.44 325.20 L102.10 326.37 L102.77 327.55 L103.45 328.74 L104.15 329.94 L104.85 331.16 L105.57 332.40 L106.30 333.64 L107.04 334.90 L107.79 336.17 L108.56 337.46 L109.34 338.75 L110.13 340.06 L110.94 341.38 L111.76 342.72 L112.60 344.06 L113.44 345.42 L114.31 346.78 L115.19 348.16 L116.08 349.55 L116.99 350.95 L117.91 352.36 L118.85 353.78 L119.81 355.20 L120.78 356.64 L121.77 358.09 L122.78 359.55 L123.80 361.02 L124.84 362.49 L125.90 363.98 L126.98 365.47 L128.08 366.97 L129.19 368.48 L130.32 370.00 L131.48 371.52 L132.65 373.05 L133.84 374.59 L135.05 376.14 L136.29 377.68 L137.54 379.23 L138.82 380.79 L140.12 382.34 L141.44 383.90 L142.78 385.45 L144.15 387.00 L145.54 388.56 L146.95 390.10 L148.39 391.65 L149.85 393.19 L151.34 394.72 L152.85 396.25 L154.39 397.77 L155.95 399.28 L157.55 400.78 L159.16 402.27 L160.81 403.75 L162.49 405.22 L164.19 406.67 L165.92 408.11 L167.68 409.54 L169.48 410.96 L171.30 412.37 L173.15 413.76 L175.04 415.15 L176.96 416.52 L178.91 417.89 L180.90 419.25 L182.91 420.60 L184.97 421.93 L187.06 423.27 L189.18 424.59 L191.34 425.91 L193.54 427.22 L195.77 428.52 L198.05 429.82 L200.36 431.11 L202.71 432.39 L205.10 433.68 L207.54 434.95 L210.01 436.23 L212.53 437.49 L215.09 438.76 L217.70 440.02 L220.34 441.28 L223.04 442.54 L225.78 443.80 L228.57 445.05 L231.40 446.31 L234.28 447.56 L237.22 448.81 L240.20 450.07 L243.24 451.32 L246.32 452.58 L249.46 453.83 L252.65 455.09 L255.90 456.35 L259.20 457.61 L262.56 458.88 L265.98 460.16 L269.46 461.44 L272.99 462.73 L276.59 464.03 L280.25 465.34 L283.97 466.66 L287.75 468.00 L291.60 469.36 L295.51 470.72 L299.49 472.11 L303.54 473.52 L307.66 474.95 L311.85 476.39 L316.11 477.87 L320.45 479.36 L324.85 480.88 L329.34 482.43 L333.90 484.01" stroke="#ff0000" stroke-width="1.7" fill="none" stroke-linejoin="round"/>
</g>
<clipPath id="cBR"><rect x="399.6" y="278.0" width="284.6" height="219.39999999999998"/></clipPath>
<path d="M418.94 497.40v-4.5M418.94 278.00v4.5M438.18 497.40v-8M438.18 278.00v8M457.42 497.40v-4.5M457.42 278.00v4.5M476.66 497.40v-8M476.66 278.00v8M495.90 497.40v-4.5M495.90 278.00v4.5M515.14 497.40v-8M515.14 278.00v8M534.38 497.40v-4.5M534.38 278.00v4.5M553.62 497.40v-8M553.62 278.00v8M572.86 497.40v-4.5M572.86 278.00v4.5M592.10 497.40v-8M592.10 278.00v8M611.34 497.40v-4.5M611.34 278.00v4.5M630.58 497.40v-8M630.58 278.00v8M649.82 497.40v-4.5M649.82 278.00v4.5M669.06 497.40v-8M669.06 278.00v8M399.60 494.99h4.5M684.20 494.99h-4.5M399.60 478.32h4.5M684.20 478.32h-4.5M399.60 464.23h4.5M684.20 464.23h-4.5M399.60 452.03h4.5M684.20 452.03h-4.5M399.60 441.26h8M684.20 441.26h-8M399.60 431.63h4.5M684.20 431.63h-4.5M399.60 422.92h4.5M684.20 422.92h-4.5M399.60 414.96h4.5M684.20 414.96h-4.5M399.60 407.65h4.5M684.20 407.65h-4.5M399.60 400.87h4.5M684.20 400.87h-4.5M399.60 394.57h4.5M684.20 394.57h-4.5M399.60 388.67h4.5M684.20 388.67h-4.5M399.60 383.13h4.5M684.20 383.13h-4.5M399.60 377.90h8M684.20 377.90h-8M399.60 372.96h4.5M684.20 372.96h-4.5M399.60 368.27h4.5M684.20 368.27h-4.5M399.60 363.81h4.5M684.20 363.81h-4.5M399.60 359.56h4.5M684.20 359.56h-4.5M399.60 355.50h4.5M684.20 355.50h-4.5M399.60 351.61h4.5M684.20 351.61h-4.5M399.60 347.88h4.5M684.20 347.88h-4.5M399.60 344.29h4.5M684.20 344.29h-4.5M399.60 340.84h8M684.20 340.84h-8M399.60 337.52h4.5M684.20 337.52h-4.5M399.60 334.31h4.5M684.20 334.31h-4.5M399.60 331.21h4.5M684.20 331.21h-4.5M399.60 328.21h4.5M684.20 328.21h-4.5M399.60 325.31h4.5M684.20 325.31h-4.5M399.60 322.50h4.5M684.20 322.50h-4.5M399.60 319.77h4.5M684.20 319.77h-4.5M399.60 317.12h4.5M684.20 317.12h-4.5M399.60 314.54h8M684.20 314.54h-8M399.60 312.04h4.5M684.20 312.04h-4.5M399.60 309.60h4.5M684.20 309.60h-4.5M399.60 307.23h4.5M684.20 307.23h-4.5M399.60 304.91h4.5M684.20 304.91h-4.5M399.60 302.66h4.5M684.20 302.66h-4.5M399.60 300.45h4.5M684.20 300.45h-4.5M399.60 298.30h4.5M684.20 298.30h-4.5M399.60 296.20h4.5M684.20 296.20h-4.5M399.60 294.15h8M684.20 294.15h-8M399.60 292.14h4.5M684.20 292.14h-4.5M399.60 290.17h4.5M684.20 290.17h-4.5M399.60 288.25h4.5M684.20 288.25h-4.5M399.60 286.36h4.5M684.20 286.36h-4.5M399.60 284.52h4.5M684.20 284.52h-4.5M399.60 282.71h4.5M684.20 282.71h-4.5M399.60 280.93h4.5M684.20 280.93h-4.5M399.60 279.19h4.5M684.20 279.19h-4.5" stroke="#000" stroke-width="1.25" fill="none"/>
<rect x="399.6" y="278.0" width="284.60" height="219.40" stroke="#000" stroke-width="1.45" fill="none"/>
<text x="399.70" y="514.20" text-anchor="middle" class="tl">0</text>
<text x="438.18" y="514.20" text-anchor="middle" class="tl">200</text>
<text x="476.66" y="514.20" text-anchor="middle" class="tl">400</text>
<text x="515.14" y="514.20" text-anchor="middle" class="tl">600</text>
<text x="553.62" y="514.20" text-anchor="middle" class="tl">800</text>
<text x="592.10" y="514.20" text-anchor="middle" class="tl">1000</text>
<text x="630.58" y="514.20" text-anchor="middle" class="tl">1200</text>
<text x="669.06" y="514.20" text-anchor="middle" class="tl">1400</text>
<text x="395.80" y="445.26" text-anchor="end" class="tl">0.03</text>
<text x="395.80" y="381.90" text-anchor="end" class="tl">0.06</text>
<text x="395.80" y="344.84" text-anchor="end" class="tl">0.09</text>
<text x="395.80" y="318.54" text-anchor="end" class="tl">0.12</text>
<text x="395.80" y="298.15" text-anchor="end" class="tl">0.15</text>
<text x="395.80" y="281.48" text-anchor="end" class="tl">0.18</text>
<text x="534.50" y="301.90" text-anchor="middle" class="dl"><tspan font-style="italic">d</tspan> = 1 cm</text>
<g clip-path="url(#cBR)">
<path d="M411.15 277.00V288.00M407.25 277.00H415.05M407.25 288.00H415.05" stroke="#000000" stroke-width="1.7" fill="none"/>
<polygon points="411.15,277.50 416.28,281.23 414.32,287.27 407.97,287.27 406.01,281.23" fill="#000000"/>
<path d="M416.63 285.30V295.20M412.73 285.30H420.53M412.73 295.20H420.53" stroke="#00ff00" stroke-width="1.7" fill="none"/>
<polygon points="416.63,284.00 420.96,286.50 420.96,291.50 416.63,294.00 412.30,291.50 412.30,286.50" fill="#00ff00"/>
<path d="M461.27 359.90V367.50M457.37 359.90H465.17M457.37 367.50H465.17" stroke="#ff8000" stroke-width="1.7" fill="none"/>
<polygon points="457.47,359.20 466.67,363.80 457.47,368.40" fill="#ff8000"/>
<path d="M527.07 426.70V436.40M523.17 426.70H530.97M523.17 436.40H530.97" stroke="#800080" stroke-width="1.7" fill="none"/>
<polygon points="521.67,431.40 527.07,426.40 532.47,431.40 527.07,436.40" fill="#800080"/>
<path d="M614.23 464.70V472.00M610.33 464.70H618.13M610.33 472.00H618.13" stroke="#800000" stroke-width="1.7" fill="none"/>
<polygon points="618.03,463.90 608.83,468.50 618.03,473.10" fill="#800000"/>
<path d="M409.90 285.00V297.40M406.00 285.00H413.80M406.00 297.40H413.80" stroke="#0000ff" stroke-width="1.7" fill="none"/>
<rect x="406.00" y="287.60" width="7.80" height="7.80" fill="#0000ff"/>
<path d="M415.28 285.50V299.20M411.38 285.50H419.18M411.38 299.20H419.18" stroke="#0000ff" stroke-width="1.7" fill="none"/>
<rect x="411.38" y="287.60" width="7.80" height="7.80" fill="#0000ff"/>
<path d="M452.80 356.60V366.80M448.90 356.60H456.70M448.90 366.80H456.70" stroke="#0000ff" stroke-width="1.7" fill="none"/>
<rect x="448.90" y="357.80" width="7.80" height="7.80" fill="#0000ff"/>
<path d="M458.00 364.00V374.10M454.10 364.00H461.90M454.10 374.10H461.90" stroke="#0000ff" stroke-width="1.7" fill="none"/>
<rect x="454.10" y="365.50" width="7.80" height="7.80" fill="#0000ff"/>
<path d="M468.19 377.00V387.50M464.29 377.00H472.09M464.29 387.50H472.09" stroke="#0000ff" stroke-width="1.7" fill="none"/>
<rect x="464.29" y="378.10" width="7.80" height="7.80" fill="#0000ff"/>
<path d="M473.58 377.50V388.50M469.68 377.50H477.48M469.68 388.50H477.48" stroke="#0000ff" stroke-width="1.7" fill="none"/>
<rect x="469.68" y="379.10" width="7.80" height="7.80" fill="#0000ff"/>
<path d="M423.17 296.30V305.80M419.27 296.30H427.07M419.27 305.80H427.07" stroke="#008000" stroke-width="1.7" fill="none"/>
<polygon points="423.17,295.40 424.50,299.18 428.50,299.27 425.31,301.70 426.46,305.53 423.17,303.25 419.88,305.53 421.03,301.70 417.85,299.27 421.85,299.18" fill="#008000"/>
<path d="M446.65 345.40V355.10M442.75 345.40H450.55M442.75 355.10H450.55" stroke="#008000" stroke-width="1.7" fill="none"/>
<polygon points="446.65,344.80 447.97,348.58 451.97,348.67 448.79,351.10 449.94,354.93 446.65,352.65 443.35,354.93 444.51,351.10 441.32,348.67 445.32,348.58" fill="#008000"/>
<path d="M465.89 369.30V379.80M461.99 369.30H469.79M461.99 379.80H469.79" stroke="#008000" stroke-width="1.7" fill="none"/>
<polygon points="465.89,369.40 467.21,373.18 471.21,373.27 468.03,375.70 469.18,379.53 465.89,377.25 462.59,379.53 463.75,375.70 460.56,373.27 464.56,373.18" fill="#008000"/>
<path d="M478.78 387.10V398.10M474.88 387.10H482.68M474.88 398.10H482.68" stroke="#008000" stroke-width="1.7" fill="none"/>
<polygon points="478.78,387.00 480.10,390.78 484.10,390.87 480.92,393.30 482.07,397.13 478.78,394.85 475.48,397.13 476.64,393.30 473.45,390.87 477.45,390.78" fill="#008000"/>
<path d="M485.13 396.90V407.10M481.23 396.90H489.03M481.23 407.10H489.03" stroke="#008000" stroke-width="1.7" fill="none"/>
<polygon points="485.13,396.60 486.45,400.38 490.45,400.47 487.27,402.90 488.42,406.73 485.13,404.45 481.83,406.73 482.99,402.90 479.80,400.47 483.80,400.38" fill="#008000"/>
<path d="M549.58 439.30V449.20M545.68 439.30H553.48M545.68 449.20H553.48" stroke="#008000" stroke-width="1.7" fill="none"/>
<polygon points="549.58,438.60 550.90,442.38 554.91,442.47 551.72,444.90 552.87,448.73 549.58,446.45 546.29,448.73 547.44,444.90 544.25,442.47 548.26,442.38" fill="#008000"/>
<path d="M566.51 454.10V465.20M562.61 454.10H570.41M562.61 465.20H570.41" stroke="#008000" stroke-width="1.7" fill="none"/>
<polygon points="566.51,453.80 567.83,457.58 571.84,457.67 568.65,460.10 569.80,463.93 566.51,461.65 563.22,463.93 564.37,460.10 561.18,457.67 565.19,457.58" fill="#008000"/>
<path d="M585.17 456.50V466.60M581.27 456.50H589.07M581.27 466.60H589.07" stroke="#008000" stroke-width="1.7" fill="none"/>
<polygon points="585.17,455.50 586.50,459.28 590.50,459.37 587.31,461.80 588.47,465.63 585.17,463.35 581.88,465.63 583.03,461.80 579.85,459.37 583.85,459.28" fill="#008000"/>
<path d="M608.45 462.80V478.80M604.55 462.80H612.35M604.55 478.80H612.35" stroke="#008000" stroke-width="1.7" fill="none"/>
<polygon points="608.45,467.10 609.78,470.88 613.78,470.97 610.59,473.40 611.75,477.23 608.45,474.95 605.16,477.23 606.31,473.40 603.13,470.97 607.13,470.88" fill="#008000"/>
<path d="M613.65 466.10V478.40M609.75 466.10H617.55M609.75 478.40H617.55" stroke="#008000" stroke-width="1.7" fill="none"/>
<polygon points="613.65,466.40 614.97,470.18 618.97,470.27 615.79,472.70 616.94,476.53 613.65,474.25 610.36,476.53 611.51,472.70 608.32,470.27 612.33,470.18" fill="#008000"/>
<path d="M633.08 477.00V489.50M629.18 477.00H636.98M629.18 489.50H636.98" stroke="#008000" stroke-width="1.7" fill="none"/>
<polygon points="633.08,477.80 634.40,481.58 638.41,481.67 635.22,484.10 636.37,487.93 633.08,485.65 629.79,487.93 630.94,484.10 627.76,481.67 631.76,481.58" fill="#008000"/>
<path d="M649.63 479.70V492.10M645.73 479.70H653.53M645.73 492.10H653.53" stroke="#008000" stroke-width="1.7" fill="none"/>
<polygon points="649.63,480.70 650.95,484.48 654.95,484.57 651.77,487.00 652.92,490.83 649.63,488.55 646.34,490.83 647.49,487.00 644.30,484.57 648.31,484.48" fill="#008000"/>
<path d="M670.60 485.70V495.80M666.70 485.70H674.50M666.70 495.80H674.50" stroke="#008000" stroke-width="1.7" fill="none"/>
<polygon points="670.60,485.20 671.92,488.98 675.93,489.07 672.74,491.50 673.89,495.33 670.60,493.05 667.31,495.33 668.46,491.50 665.27,489.07 669.28,488.98" fill="#008000"/>
<path d="M625.39 471.40V481.20M621.49 471.40H629.29M621.49 481.20H629.29" stroke="#8000ff" stroke-width="1.7" fill="none"/>
<circle cx="625.39" cy="476.40" r="4.0" fill="#8000ff"/>
<path d="M655.98 480.40V490.80M652.08 480.40H659.88M652.08 490.80H659.88" stroke="#8000ff" stroke-width="1.7" fill="none"/>
<circle cx="655.98" cy="485.50" r="4.0" fill="#8000ff"/>
<path d="M408.55 289.77 L408.70 289.54 L408.86 289.32 L409.02 289.11 L409.18 288.91 L409.34 288.72 L409.51 288.55 L409.68 288.39 L409.86 288.23 L410.03 288.10 L410.21 287.97 L410.39 287.86 L410.58 287.76 L410.77 287.68 L410.96 287.61 L411.15 287.56 L411.35 287.52 L411.55 287.50 L411.76 287.50 L411.97 287.51 L412.18 287.54 L412.40 287.58 L412.62 287.65 L412.84 287.73 L413.07 287.83 L413.30 287.96 L413.54 288.10 L413.78 288.26 L414.02 288.44 L414.27 288.64 L414.52 288.86 L414.78 289.11 L415.04 289.38 L415.31 289.66 L415.58 289.98 L415.85 290.31 L416.13 290.67 L416.42 291.05 L416.71 291.46 L417.00 291.89 L417.30 292.35 L417.61 292.83 L417.92 293.34 L418.24 293.87 L418.56 294.43 L418.88 295.02 L419.22 295.64 L419.56 296.28 L419.90 296.95 L420.25 297.65 L420.61 298.38 L420.97 299.13 L421.34 299.90 L421.71 300.70 L422.10 301.52 L422.48 302.37 L422.88 303.23 L423.28 304.11 L423.69 305.01 L424.11 305.93 L424.53 306.87 L424.96 307.82 L425.40 308.79 L425.84 309.78 L426.30 310.77 L426.76 311.78 L427.23 312.80 L427.70 313.83 L428.19 314.87 L428.68 315.92 L429.19 316.97 L429.70 318.04 L430.22 319.11 L430.75 320.18 L431.29 321.26 L431.83 322.34 L432.39 323.43 L432.96 324.52 L433.53 325.62 L434.12 326.72 L434.72 327.83 L435.32 328.95 L435.94 330.07 L436.57 331.20 L437.21 332.34 L437.86 333.49 L438.52 334.65 L439.20 335.81 L439.88 336.99 L440.58 338.17 L441.29 339.37 L442.01 340.58 L442.74 341.79 L443.49 343.02 L444.25 344.26 L445.02 345.52 L445.81 346.79 L446.60 348.07 L447.42 349.36 L448.25 350.67 L449.09 352.00 L449.94 353.33 L450.82 354.69 L451.70 356.06 L452.60 357.45 L453.52 358.85 L454.45 360.27 L455.40 361.71 L456.37 363.17 L457.35 364.64 L458.35 366.13 L459.37 367.65 L460.40 369.18 L461.46 370.74 L462.53 372.31 L463.62 373.90 L464.73 375.51 L465.85 377.13 L467.00 378.76 L468.17 380.41 L469.35 382.06 L470.56 383.72 L471.79 385.38 L473.04 387.04 L474.31 388.70 L475.61 390.35 L476.92 392.01 L478.26 393.65 L479.62 395.28 L481.01 396.91 L482.42 398.51 L483.86 400.11 L485.31 401.68 L486.80 403.23 L488.31 404.76 L489.85 406.27 L491.41 407.75 L493.00 409.20 L494.62 410.62 L496.26 412.01 L497.94 413.37 L499.64 414.72 L501.37 416.05 L503.14 417.37 L504.93 418.68 L506.76 419.99 L508.61 421.30 L510.50 422.62 L512.42 423.95 L514.38 425.29 L516.37 426.65 L518.39 428.01 L520.45 429.38 L522.54 430.76 L524.67 432.15 L526.84 433.53 L529.04 434.92 L531.29 436.30 L533.57 437.68 L535.89 439.04 L538.25 440.40 L540.65 441.75 L543.10 443.09 L545.59 444.42 L548.12 445.73 L550.69 447.04 L553.31 448.33 L555.97 449.62 L558.68 450.89 L561.44 452.16 L564.24 453.42 L567.10 454.68 L570.00 455.92 L572.95 457.16 L575.96 458.39 L579.01 459.62 L582.12 460.84 L585.29 462.06 L588.50 463.27 L591.78 464.48 L595.11 465.68 L598.50 466.88 L601.94 468.08 L605.45 469.29 L609.02 470.50 L612.65 471.73 L616.34 472.96 L620.10 474.22 L623.92 475.50 L627.81 476.80 L631.76 478.13 L635.79 479.49 L639.88 480.89 L644.05 482.33 L648.29 483.80 L652.60 485.33 L656.98 486.90 L661.44 488.53 L665.98 490.21 L670.60 491.96" stroke="#ff0000" stroke-width="1.7" fill="none" stroke-linejoin="round"/>
</g>
<rect x="584.9" y="37.6" width="76.6" height="147.7" fill="#fff" stroke="#333" stroke-width="1.1"/>
<polygon points="601.80,44.20 608.65,49.18 606.03,57.22 597.57,57.22 594.95,49.18" fill="#000000"/>
<text x="617.4" y="48.90" class="sup">241</text>
<text x="627.95" y="54.30" class="lg">Am</text>
<polygon points="601.80,60.00 607.86,63.50 607.86,70.50 601.80,74.00 595.74,70.50 595.74,63.50" fill="#00ff00"/>
<text x="617.4" y="65.10" class="sup">109</text>
<text x="627.95" y="70.50" class="lg">Cd</text>
<polygon points="596.3,75.69999999999999 610.3,83.19999999999999 596.3,90.69999999999999" fill="#ff8000"/>
<text x="617.4" y="81.30" class="sup">51</text>
<text x="624.50" y="86.70" class="lg">Cr</text>
<polygon points="593.5999999999999,99.39999999999999 601.8,91.6 610.0,99.39999999999999 601.8,107.19999999999999" fill="#800080"/>
<text x="617.4" y="97.50" class="sup">137</text>
<text x="627.95" y="102.90" class="lg">Cs</text>
<polygon points="606.8,108.1 593.3,115.6 606.8,123.1" fill="#800000"/>
<text x="617.4" y="113.70" class="sup">65</text>
<text x="624.50" y="119.10" class="lg">Zn</text>
<rect x="595.8" y="125.80000000000001" width="12" height="12" fill="#0000ff"/>
<text x="617.4" y="129.90" class="sup">133</text>
<text x="627.95" y="135.30" class="lg">Ba</text>
<polygon points="601.80,141.00 603.56,146.17 609.03,146.25 604.65,149.53 606.27,154.75 601.80,151.60 597.33,154.75 598.95,149.53 594.57,146.25 600.04,146.17" fill="#008000"/>
<text x="617.4" y="146.10" class="sup">152</text>
<text x="627.95" y="151.50" class="lg">Eu</text>
<circle cx="601.8" cy="164.2" r="6.4" fill="#8000ff"/>
<text x="617.4" y="162.30" class="sup">60</text>
<text x="624.50" y="167.70" class="lg">Co</text>
<path d="M588.6 178.3H614.9" stroke="#ff0000" stroke-width="1.8"/>
<text x="617.4" y="181.9" class="lg">LogPol4</text>
</svg></body></html>
